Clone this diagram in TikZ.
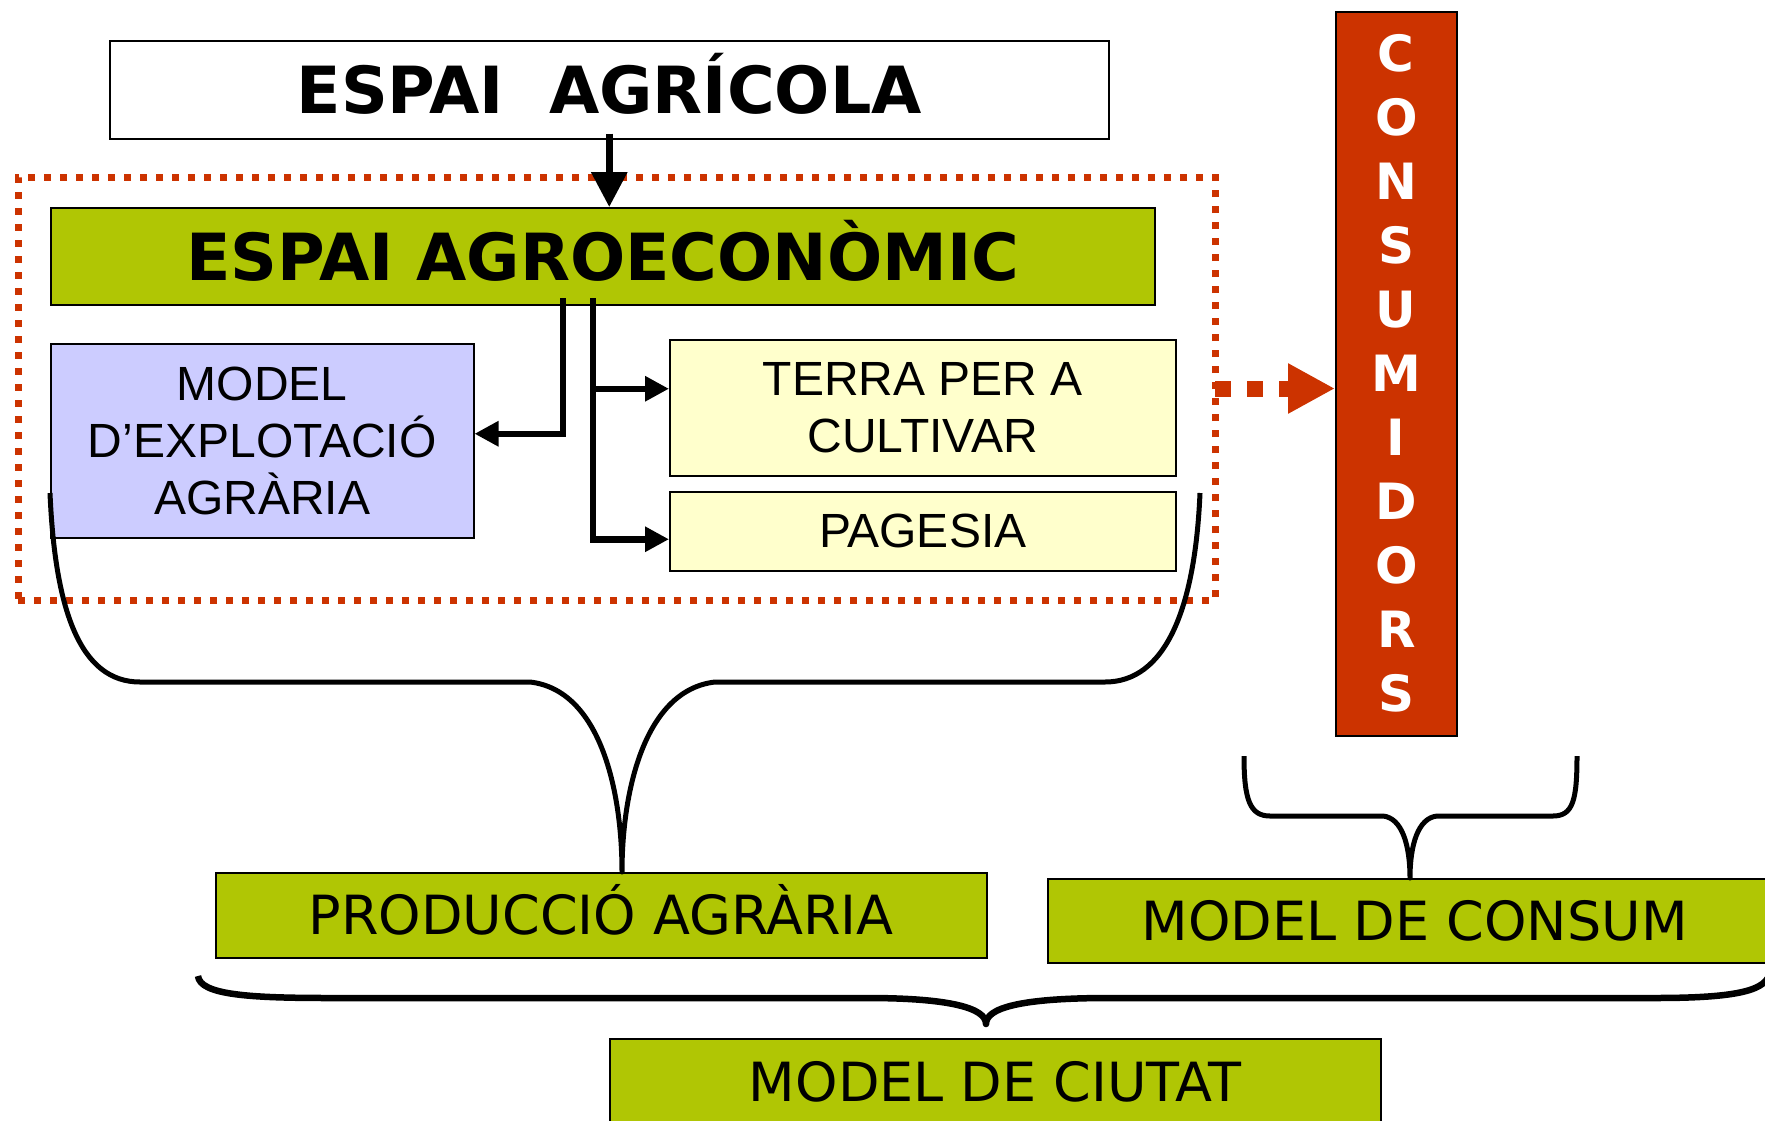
\documentclass[tikz,border=0pt]{standalone}
\usepackage{fontspec}
\setmainfont{DejaVu Sans}
\newfontfamily\arialfont{Liberation Sans}
\usetikzlibrary{arrows.meta}
\definecolor{verd}{RGB}{176,198,4}
\definecolor{vermell}{RGB}{204,51,0}
\definecolor{lila}{RGB}{204,204,255}
\definecolor{groc}{RGB}{255,255,204}
\begin{document}
\begin{tikzpicture}[x=1pt,y=-1pt,
  caixa/.style={draw,line width=1.5pt,anchor=north west,inner sep=0pt,align=center},
  titol/.style={caixa,font=\bfseries\fontsize{65}{65}\selectfont,text height=48pt,text depth=0pt},
  lletra/.style={caixa,font=\arialfont\fontsize{48}{57}\selectfont},
  verda/.style={caixa,fill=verd,font=\fontsize{54}{54}\selectfont,text height=39pt,text depth=0pt},
  fletxa/.style={line width=6.5pt,-{Triangle[length=24pt,width=24pt]}},
  clau/.style={line width=5pt,line join=round}]
  \useasboundingbox (0,0) rectangle (1765,1120);
  \node[draw=vermell,line width=7pt,dash pattern=on 7pt off 9pt,anchor=north west,outer sep=0pt,
    minimum width=1197pt,minimum height=423pt] (marc) at (18,177) {};
  \node[titol,fill=white,minimum width=999pt,minimum height=98pt] (agricola) at (109,40) {ESPAI\ \ AGRÍCOLA};
  \node[titol,fill=verd,minimum width=1104pt,minimum height=97pt] (agroeco) at (50,207) {ESPAI AGROECONÒMIC};
  \node[lletra,fill=lila,minimum width=423pt,minimum height=194pt] (model) at (50,343) {MODEL\\D’EXPLOTACIÓ\\AGRÀRIA};
  \node[lletra,fill=groc,minimum width=506pt,minimum height=136pt] (terra) at (669,339) {TERRA PER A\\CULTIVAR};
  \node[lletra,fill=groc,minimum width=506pt,minimum height=79pt] (pagesia) at (669,491) {PAGESIA};
  \node[caixa,fill=vermell,text=white,minimum width=121pt,minimum height=724pt,
    font=\bfseries\fontsize{50}{64}\selectfont] (consum) at (1335,11) {C\\O\\N\\S\\U\\M\\I\\D\\O\\R\\S};
  \node[verda,minimum width=771pt,minimum height=85pt] (produccio) at (215,872) {PRODUCCIÓ AGRÀRIA};
  \node[verda,minimum width=734pt,minimum height=84pt] (modelconsum) at (1047,878) {MODEL DE CONSUM};
  \node[verda,minimum width=771pt,minimum height=86pt] (ciutat) at (609,1038) {MODEL DE CIUTAT};
  \coordinate (esq) at (563,298);
  \coordinate (dre) at (593,298);
  \draw[line width=6.5pt,-{Triangle[length=35pt,width=35pt]}] ([yshift=6pt]agricola.south) -- (agricola.south |- agroeco.north);
  \draw[fletxa] (esq) |- ([yshift=7pt]model.east);
  \draw[fletxa] (dre) |- ([yshift=-8pt]pagesia.west);
  \draw[fletxa] (dre |- terra.west) ++(0,-19) -- ([yshift=19pt]terra.west);
  \draw[vermell,line width=16pt,dash pattern=on 16pt off 16pt,-{Triangle[length=47pt,width=47pt]}]
    (marc.east) -- (consum.west |- marc.east);
  \draw[clau] (50,493) .. controls (55,610) and (80,682) .. (140,682) -- (530,682)
    .. controls (600,690) and (622,790) .. (622,872)
    .. controls (622,790) and (645,690) .. (715,682) -- (1105,682)
    .. controls (1165,682) and (1195,610) .. (1200,493);
  \draw[clau] (1244,756) .. controls (1244,800) and (1250,816) .. (1270,816) -- (1383,816)
    .. controls (1402,818) and (1410,845) .. (1410,878)
    .. controls (1410,845) and (1418,818) .. (1437,816) -- (1553,816)
    .. controls (1573,816) and (1577,800) .. (1577,756);
  \draw[clau,line width=6.5pt] (198,976) .. controls (200,995) and (250,998) .. (330,998) -- (867,998)
    .. controls (950,998) and (986,1008) .. (986,1024)
    .. controls (986,1008) and (1020,998) .. (1109,998) -- (1655,998)
    .. controls (1740,998) and (1767,990) .. (1770,972);
\end{tikzpicture}
\end{document}
